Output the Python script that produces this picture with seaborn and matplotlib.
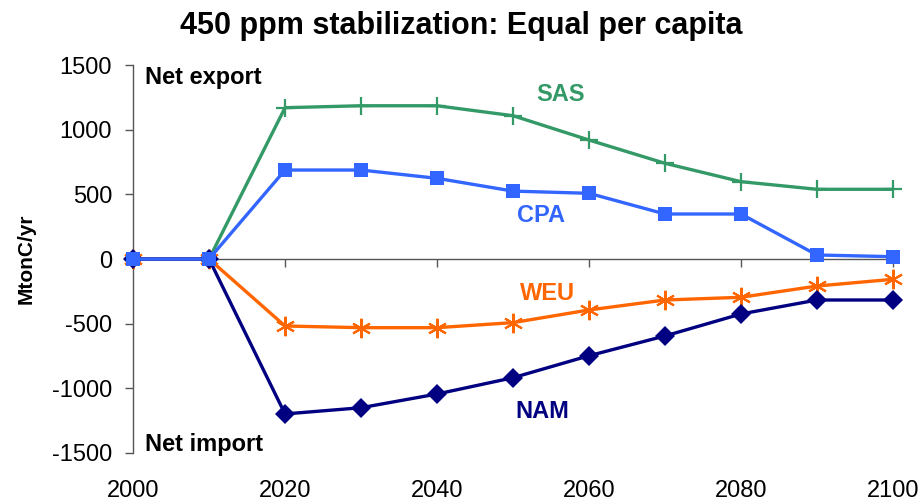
import matplotlib
matplotlib.use("Agg")
import matplotlib.pyplot as plt
import matplotlib.transforms as mtransforms
import seaborn as sns
import pandas as pd

years = [2000, 2010, 2020, 2030, 2040, 2050, 2060, 2070, 2080, 2090, 2100]
sas = [0, 0, 1170, 1185, 1185, 1108, 920, 740, 598, 539, 539]
cpa = [0, 0, 688, 688, 624, 525, 508, 348, 348, 31, 18]
weu = [0, 0, -518, -531, -531, -492, -394, -317, -296, -209, -157]
nam = [0, 0, -1198, -1150, -1044, -918, -748, -595, -425, -317, -317]

x_ticks = [2000, 2020, 2040, 2060, 2080, 2100]
y_ticks = [-1500, -1000, -500, 0, 500, 1000, 1500]

sns.set_theme(style="white")
plt.rcParams["font.family"] = ["Liberation Sans", "DejaVu Sans"]
plt.rcParams["axes.unicode_minus"] = False
plt.rcParams["text.color"] = "black"
plt.rcParams["xtick.color"] = "black"
plt.rcParams["ytick.color"] = "black"
plt.rcParams["axes.labelcolor"] = "black"

fig = plt.figure(figsize=(9.22, 5.04), dpi=100)
ax = fig.add_axes([0.1443, 0.1012, 0.8242, 0.7698])

series = [
    ("SAS", sas, "#339966", dict(marker="+", markersize=13, markeredgewidth=1.6), 3),
    ("WEU", weu, "#FF6600", dict(marker=(6, 2, 0), markersize=14, markeredgewidth=1.5), 4),
    ("NAM", nam, "#000080", dict(marker="D", markersize=10.5, markeredgewidth=0), 5),
    ("CPA", cpa, "#3366FF", dict(marker="s", markersize=10.5, markeredgewidth=0), 6),
]
for name, vals, color, mk, z in series:
    df = pd.DataFrame({"year": years, "value": vals})
    sns.lineplot(data=df, x="year", y="value", ax=ax, color=color,
                 linewidth=2.4, markeredgecolor=color, zorder=z, clip_on=False, **mk)

ax.set_xlim(2000, 2100)
ax.set_ylim(-1500, 1500)
ax.set_xticks(x_ticks)
ax.set_yticks(y_ticks)
ax.set_xlabel("")
ax.set_ylabel("MtonC/yr", fontsize=15, fontweight="bold", labelpad=12)

axis_color = "#555555"
for side in ["top", "right"]:
    ax.spines[side].set_visible(False)
ax.spines["left"].set_color(axis_color)
ax.spines["bottom"].set_color(axis_color)
ax.spines["left"].set_linewidth(1.0)
ax.spines["bottom"].set_linewidth(1.0)
ax.spines["bottom"].set_position(("data", 0))
ax.tick_params(axis="y", direction="out", length=6, width=1, color=axis_color,
               labelsize=17, left=True, pad=9)
ax.tick_params(axis="x", direction="out", length=6, width=1, color=axis_color,
               labelbottom=False, bottom=True)

# x tick labels sit below the plot area, not on the zero axis
trans = mtransforms.blended_transform_factory(ax.transData, ax.transAxes)
for xt in x_ticks:
    ax.text(xt, -0.07, str(xt), transform=trans, ha="center", va="top", fontsize=17)

fig.text(0.5, 0.948, "450 ppm stabilization: Equal per capita", fontsize=22,
         fontweight="bold", ha="center", va="center")

ax.text(2001.6, 1400, "Net export", fontsize=17, fontweight="bold", va="center")
ax.text(2001.6, -1438, "Net import", fontsize=17, fontweight="bold", va="center")

ax.text(2056.3, 1270, "SAS", color="#339966", fontsize=17, fontweight="bold", ha="center", va="center")
ax.text(2053.7, 340, "CPA", color="#3366FF", fontsize=17, fontweight="bold", ha="center", va="center")
ax.text(2054.6, -263, "WEU", color="#FF6600", fontsize=17, fontweight="bold", ha="center", va="center")
ax.text(2053.9, -1183, "NAM", color="#000080", fontsize=17, fontweight="bold", ha="center", va="center")

fig.savefig("out.png", dpi=100)
